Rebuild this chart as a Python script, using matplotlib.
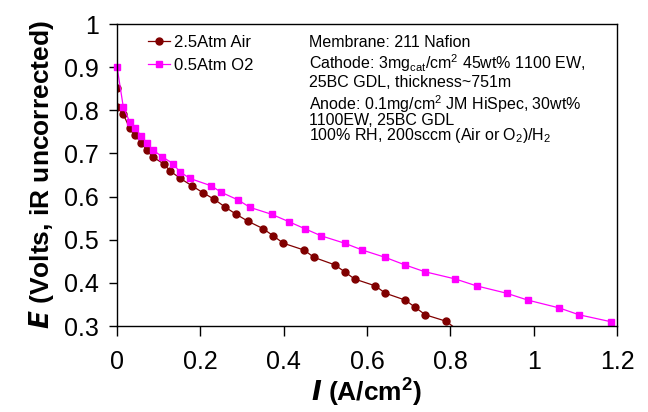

import matplotlib
matplotlib.use("Agg")
import matplotlib.pyplot as plt
import matplotlib as mpl

# Data
i_air = [0.0, 0.0, 0.015, 0.03, 0.042, 0.058, 0.071, 0.086, 0.113, 0.128, 0.152, 0.18,
         0.206, 0.233, 0.259, 0.286, 0.314, 0.35, 0.375, 0.399, 0.449, 0.473, 0.522,
         0.546, 0.570, 0.62, 0.644, 0.692, 0.716, 0.74, 0.79, 0.825]
e_air = [0.852, 0.808, 0.791, 0.759, 0.743, 0.725, 0.708, 0.692, 0.675, 0.659, 0.642, 0.625,
         0.609, 0.594, 0.576, 0.559, 0.543, 0.526, 0.509, 0.492, 0.476, 0.459, 0.442,
         0.426, 0.409, 0.393, 0.376, 0.360, 0.343, 0.326, 0.311, 0.285]

i_o2 = [0.0, 0.015, 0.03, 0.044, 0.058, 0.072, 0.086, 0.109, 0.135, 0.15, 0.175, 0.226,
        0.25, 0.291, 0.319, 0.371, 0.412, 0.452, 0.49, 0.546, 0.589, 0.644, 0.69, 0.738,
        0.812, 0.863, 0.935, 0.986, 1.061, 1.109, 1.185]
e_o2 = [0.901, 0.808, 0.774, 0.758, 0.741, 0.724, 0.708, 0.692, 0.676, 0.658, 0.642, 0.625,
        0.61, 0.592, 0.575, 0.559, 0.542, 0.525, 0.509, 0.492, 0.476, 0.459, 0.442, 0.426,
        0.409, 0.393, 0.376, 0.360, 0.342, 0.326, 0.310]

labels = ['2.5Atm Air', '0.5Atm O2']
x_ticks = [0, 0.2, 0.4, 0.6, 0.8, 1.0, 1.2]
x_ticklabels = ['0', '0.2', '0.4', '0.6', '0.8', '1', '1.2']
y_ticks = [0.3, 0.4, 0.5, 0.6, 0.7, 0.8, 0.9, 1.0]
y_ticklabels = ['0.3', '0.4', '0.5', '0.6', '0.7', '0.8', '0.9', '1']

info_blocks = ['Membrane: 211 Nafion',
               'Cathode: 3mg$_{\\rm cat}$/cm$^{2}$ 45wt% 1100 EW,\n25BC GDL, thickness~751m',
               'Anode: 0.1mg/cm$^{2}$ JM HiSpec, 30wt%\n1100EW, 25BC GDL\n'
               '100% RH, 200sccm (Air or O$_{2}$)/H$_{2}$']

## Fonts
mpl.rcParams['font.family'] = ['Liberation Sans', 'DejaVu Sans']
mpl.rcParams['mathtext.fontset'] = 'custom'
mpl.rcParams['mathtext.rm'] = 'Liberation Sans'
mpl.rcParams['mathtext.it'] = 'Liberation Sans:italic'
mpl.rcParams['mathtext.bf'] = 'Liberation Sans:bold'

c = {'air': '#800000', 'o2': '#FF00FF'}

fig = plt.figure(figsize=(6.48, 4.12), dpi=100)
ax = fig.add_axes([0.1806, 0.2087, 0.7716, 0.733])

ax.plot(i_air, e_air, '-o', color=c['air'], mfc=c['air'], mec=c['air'],
        lw=0.9, ms=5, label=labels[0])
ax.plot(i_o2, e_o2, '-s', color=c['o2'], mfc=c['o2'], mec=c['o2'],
        lw=0.9, ms=5, label=labels[1], clip_on=False)

ax.set_xlim(0, 1.2)
ax.set_ylim(0.3, 1.0)
ax.set_xticks(x_ticks)
ax.set_xticklabels(x_ticklabels)
ax.set_yticks(y_ticks)
ax.set_yticklabels(y_ticklabels)
ax.tick_params(axis='x', direction='out', length=7, width=1, labelsize=18, pad=10)
ax.tick_params(axis='y', direction='out', length=6, width=1, labelsize=18, pad=7)
for sp in ax.spines.values():
    sp.set_linewidth(1)
    sp.set_color('black')

ax.set_xlabel(r'$\mathbfit{I}$ (A/cm$^{\mathbf{2}}$)', fontsize=19, fontweight='bold', labelpad=2)
ax.set_ylabel(r'$\mathbfit{E}$ (Volts, iR uncorrected)', fontsize=19, fontweight='bold', labelpad=6)

leg = ax.legend(loc='upper left', bbox_to_anchor=(0.062, 0.965), frameon=False,
                fontsize=12, handlelength=1.3, handletextpad=0.25,
                labelspacing=0.5, borderpad=0, borderaxespad=0)

## Info text, top of each block in axes fraction
y_top = [0.965, 0.905, 0.772]
spacing = [1.0, 1.05, 0.86]
for txt, yy, ls in zip(info_blocks, y_top, spacing):
    ax.text(0.384, yy, txt, transform=ax.transAxes, fontsize=11.5, va='top', ha='left',
            linespacing=ls)

fig.savefig('out.png', dpi=100)
